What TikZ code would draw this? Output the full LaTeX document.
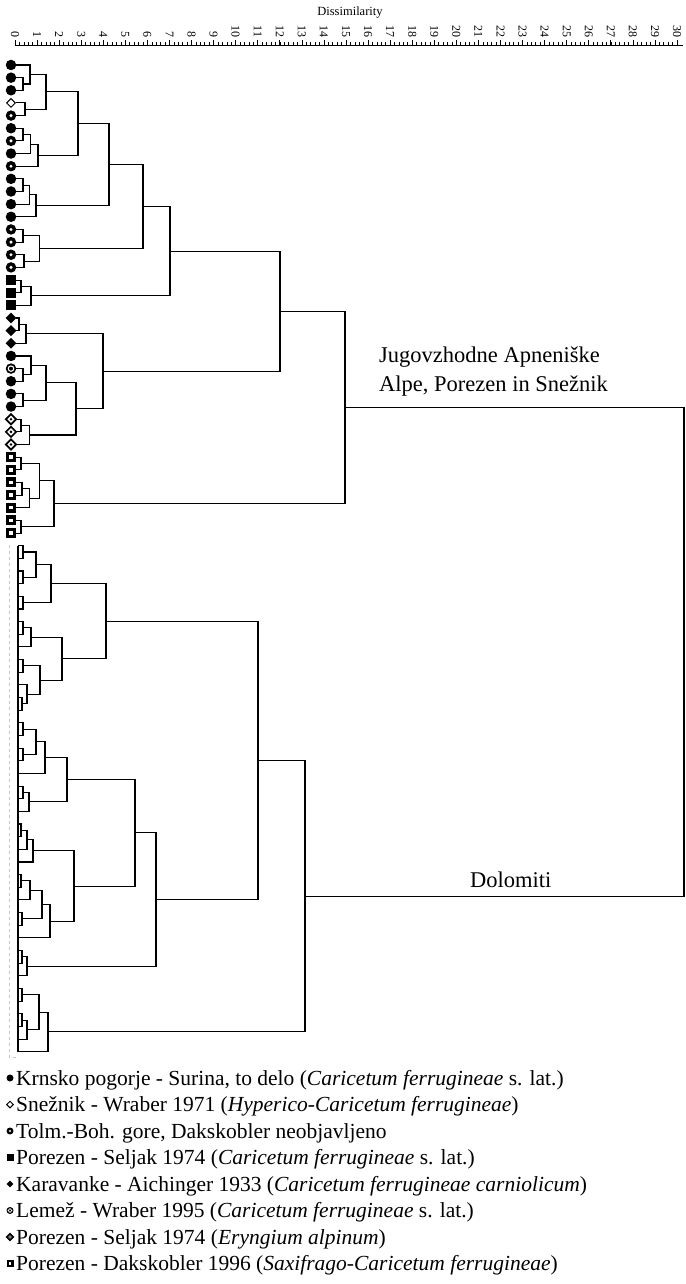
\documentclass[tikz,border=0pt]{standalone}
\usepackage{fontspec}
\setmainfont{Liberation Serif}
\usetikzlibrary{shapes.geometric,calc}
\newcommand\dgjoin[4]{%
  \coordinate (xr#1) at (#2,0);
  \path (#3) -- (#4) coordinate[pos=.5] (md#1);
  \coordinate (#1) at (md#1 -| xr#1);
  \draw[br] (#3) -| (#1) |- (#4);
}
\begin{document}
\begin{tikzpicture}[x=1pt,y=-1pt,
  br/.style={line width=1.1pt},
  fc/.style={circle,fill=black,inner sep=0pt,minimum size=#1}, fc/.default=10.5,
  od/.style={diamond,draw=black,line width=1pt,fill=white,inner sep=0pt,minimum size=#1}, od/.default=9,
  dc/.style={circle,fill=black,inner sep=0pt,minimum size=#1,
    path picture={\fill[white] (path picture bounding box.center) circle[radius=#1*0.16pt];}}, dc/.default=10.5,
  fs/.style={rectangle,fill=black,inner sep=0pt,minimum size=#1}, fs/.default=10,
  fd/.style={diamond,fill=black,inner sep=0pt,minimum size=#1}, fd/.default=11,
  lc/.style={circle,fill=black,inner sep=0pt,minimum size=#1,
    path picture={\draw[white,line width=#1*0.1pt] (path picture bounding box.center) circle[radius=#1*0.26pt];}}, lc/.default=10.5,
  dd/.style={diamond,draw=black,line width=1.7pt,fill=white,inner sep=0pt,minimum size=#1,
    path picture={\fill[black] (path picture bounding box.center) circle[radius=#1*0.13pt];}}, dd/.default=11,
  ds/.style={rectangle,fill=black,inner sep=0pt,minimum size=#1,
    path picture={\fill[white] (path picture bounding box.center) +({-#1*0.17pt},{-#1*0.17pt}) rectangle +({#1*0.17pt},{#1*0.17pt});}}, ds/.default=10,
  lbl/.style={font=\fontsize{22.5}{26}\selectfont,inner sep=0pt},
  leg/.style={font=\fontsize{21.5}{24}\selectfont,inner sep=0pt,anchor=base west},
  axn/.style={font=\fontsize{12}{12}\selectfont,inner sep=0pt,rotate=-90,anchor=east},
]
\useasboundingbox (0,0) rectangle (685,1284);
% axis
\node[font=\fontsize{12.5}{13}\selectfont,inner sep=0pt] (axtitle) at (350,13) {Dissimilarity};
\draw[line width=0.8pt] (15,45) -- (683,45);
\foreach \k in {0,...,150} {\draw[line width=0.6pt] ({15+\k*22.067/5},45) -- ++(0,-2.5);}
\foreach \d in {0,...,30} {
  \draw[line width=0.7pt] ({15+\d*22.067},45) -- ++(0,-5);
  \node[axn] (ax\d) at ({15+\d*22.067},37.5) {\d};
}
% leaves
\foreach \i in {1,...,38} {\coordinate (L\i) at (16,{65+12.65*(\i-1)});}
\foreach \i in {39,...,79} {\coordinate (L\i) at (18,{65+12.65*(\i-1)});}
\foreach \i/\s in {1/fc,2/fc,3/fc,4/od,5/dc,6/fc,7/dc,8/fc,9/dc,10/fc,11/fc,12/fc,13/fc,
  14/dc,15/dc,16/dc,17/dc,18/fs,19/fs,20/fs,21/fd,22/fd,23/fd,24/fc,25/lc,26/fc,27/fc,28/fc,
  29/dd,30/dd,31/dd,32/ds,33/ds,34/ds,35/ds,36/ds,37/ds,38/ds}
  {\node[\s] (S\i) at (11,{65+12.65*(\i-1)}) {};}
\draw[gray!45,line width=0.5pt,dashed] (9,545) -- (9,1057) -- (18,1057);
\draw[br] (L39) -- (L79);
% top cluster
\dgjoin{n1}{23}{L2}{L3}
\dgjoin{n2}{30}{L1}{n1}
\dgjoin{n3}{25}{L4}{L5}
\dgjoin{n4}{46}{n2}{n3}
\dgjoin{n5}{23}{L6}{L7}
\dgjoin{n6}{30.5}{n5}{L8}
\dgjoin{n7}{38}{n6}{L9}
\dgjoin{n8}{78}{n4}{n7}
\dgjoin{n9}{23}{L10}{L11}
\dgjoin{n10}{29.5}{n9}{L12}
\dgjoin{n11}{36}{n10}{L13}
\dgjoin{n12}{109}{n8}{n11}
\dgjoin{n13}{23}{L14}{L15}
\dgjoin{n14}{24}{L16}{L17}
\dgjoin{n15}{39.5}{n13}{n14}
\dgjoin{n16}{143}{n12}{n15}
\dgjoin{n17}{21}{L18}{L19}
\dgjoin{n18}{31}{n17}{L20}
\dgjoin{n19}{170}{n16}{n18}
\dgjoin{n20}{19}{L21}{L22}
\dgjoin{n21}{26}{n20}{L23}
\dgjoin{n22}{23}{L25}{L26}
\dgjoin{n23}{31}{L24}{n22}
\dgjoin{n24}{23}{L27}{L28}
\dgjoin{n25}{46}{n23}{n24}
\dgjoin{n26}{21}{L29}{L30}
\dgjoin{n27}{29.5}{n26}{L31}
\dgjoin{n28}{76}{n25}{n27}
\dgjoin{n29}{103}{n21}{n28}
\dgjoin{n30}{280}{n19}{n29}
\dgjoin{n31}{21}{L32}{L33}
\dgjoin{n32}{22}{L34}{L35}
\dgjoin{n33}{29.5}{n32}{L36}
\dgjoin{n34}{39.5}{n31}{n33}
\dgjoin{n35}{21}{L37}{L38}
\dgjoin{n36}{54}{n34}{n35}
\dgjoin{n37}{345}{n30}{n36}
% bottom cluster
\dgjoin{m1}{23}{L39}{L40}
\dgjoin{m2}{23}{L41}{L42}
\dgjoin{m3}{36}{m1}{m2}
\dgjoin{m4}{23}{L43}{L44}
\dgjoin{m5}{51}{m3}{m4}
\dgjoin{m6}{23}{L45}{L46}
\dgjoin{m7}{31}{m6}{L47}
\dgjoin{m8}{23}{L48}{L49}
\dgjoin{m9}{22}{L51}{L52}
\dgjoin{m10}{27}{L50}{m9}
\dgjoin{m11}{40}{m8}{m10}
\dgjoin{m12}{62}{m7}{m11}
\dgjoin{m13}{106}{m5}{m12}
\dgjoin{m14}{23}{L53}{L54}
\dgjoin{m15}{23}{L55}{L56}
\dgjoin{m16}{36}{m14}{m15}
\dgjoin{m17}{45}{m16}{L57}
\dgjoin{m18}{23}{L58}{L59}
\dgjoin{m19}{29}{m18}{L60}
\dgjoin{m20}{67}{m17}{m19}
\dgjoin{m21}{21}{L61}{L62}
\dgjoin{m22}{27}{m21}{L63}
\dgjoin{m23}{33}{m22}{L64}
\dgjoin{m24}{21}{L65}{L66}
\dgjoin{m25}{30}{m24}{L67}
\dgjoin{m26}{22}{L68}{L69}
\dgjoin{m27}{42}{m25}{m26}
\dgjoin{m28}{50}{m27}{L70}
\dgjoin{m29}{74}{m23}{m28}
\dgjoin{m30}{135}{m20}{m29}
\dgjoin{m31}{22}{L71}{L72}
\dgjoin{m32}{27}{m31}{L73}
\dgjoin{m33}{156}{m30}{m32}
\dgjoin{m34}{258}{m13}{m33}
\dgjoin{m35}{22}{L74}{L75}
\dgjoin{m36}{22}{L76}{L77}
\dgjoin{m37}{27}{m36}{L78}
\dgjoin{m38}{39}{m35}{m37}
\dgjoin{m39}{48}{m38}{L79}
\dgjoin{m40}{305}{m34}{m39}
\dgjoin{root}{684}{n37}{m40}
% cluster labels
\node[lbl,anchor=base west] (lab1) at (379,362) {Jugovzhodne Apneniške};
\node[lbl,anchor=base west] (lab2) at (379,391) {Alpe, Porezen in Snežnik};
\node[lbl,anchor=base west] (lab3) at (470,887) {Dolomiti};
% legend
\foreach \k/\s/\t in {
  1/fc/{Krnsko pogorje - Surina, to delo (\textit{Caricetum ferrugineae} s. lat.)},
  2/od/{Snežnik - Wraber 1971 (\textit{Hyperico-Caricetum ferrugineae})},
  3/dc/{Tolm.-Boh. gore, Dakskobler neobjavljeno},
  4/fs/{Porezen - Seljak 1974 (\textit{Caricetum ferrugineae} s. lat.)},
  5/fd/{Karavanke - Aichinger 1933 (\textit{Caricetum ferrugineae carniolicum})},
  6/lc/{Lemež - Wraber 1995 (\textit{Caricetum ferrugineae} s. lat.)},
  7/dd/{Porezen - Seljak 1974 (\textit{Eryngium alpinum})},
  8/ds/{Porezen - Dakskobler 1996 (\textit{Saxifrago-Caricetum ferrugineae})}} {
  \node[\s=7] (ls\k) at (10,{1078+26.5*(\k-1)}) {};
  \node[leg] (lt\k) at (16,{1085+26.5*(\k-1)}) {\t};
}
\end{tikzpicture}
\end{document}
